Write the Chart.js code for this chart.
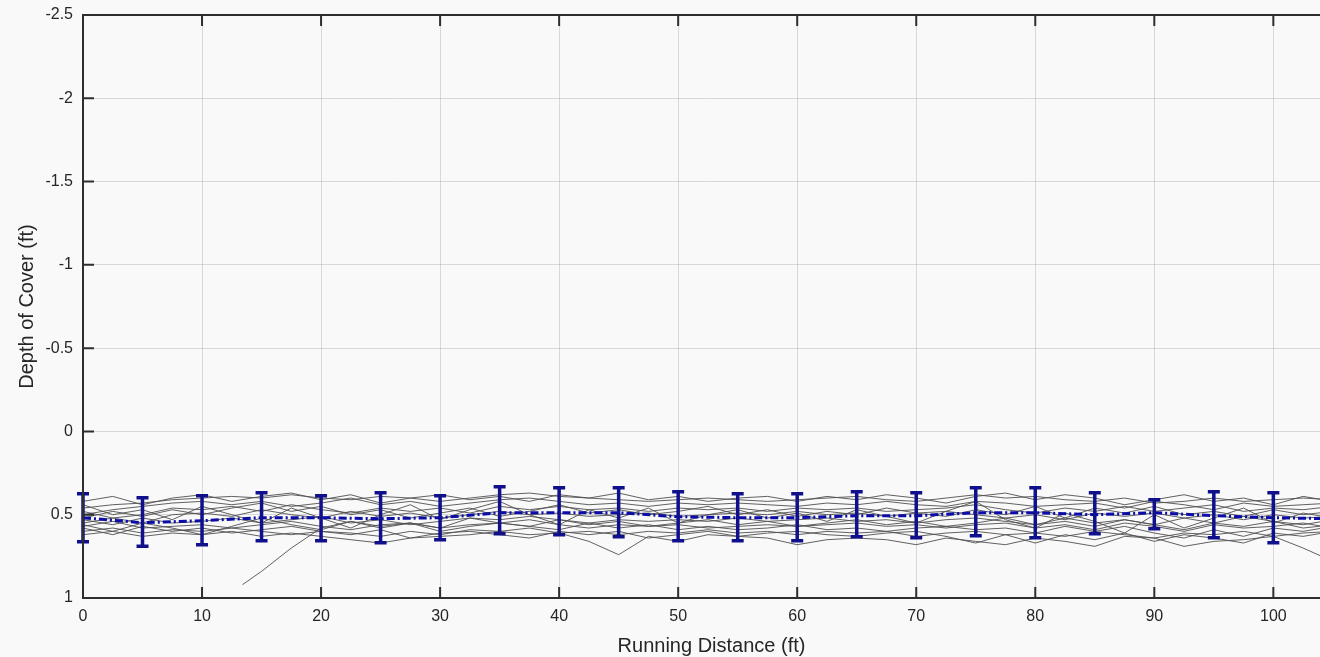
<!DOCTYPE html>
<html>
<head>
<meta charset="utf-8">
<script src="https://cdn.jsdelivr.net/npm/chart.js@4/dist/chart.umd.min.js"></script>
<style>
  html, body { margin: 0; padding: 0; background: #f9f9f9; overflow: hidden; }
  #wrap { width: 1340px; height: 657px; position: relative; }
</style>
</head>
<body>
<div id="wrap"><canvas id="c"></canvas></div>
<script>
// ---- data ----
const xs = [0,2.5,5,7.5,10,12.5,15,17.5,20,22.5,25,27.5,30,32.5,35,37.5,40,42.5,45,47.5,50,52.5,55,57.5,60,62.5,65,67.5,70,72.5,75,77.5,80,82.5,85,87.5,90,92.5,95,97.5,100,102.5,105];

const trace1  = [0.46,0.44,0.43,0.41,0.40,0.39,0.40,0.38,0.40,0.41,0.39,0.40,0.42,0.40,0.38,0.37,0.39,0.40,0.41,0.42,0.41,0.40,0.41,0.42,0.41,0.40,0.39,0.41,0.42,0.40,0.38,0.40,0.39,0.41,0.42,0.40,0.43,0.42,0.40,0.42,0.41,0.40,0.41];
const trace2  = [0.50,0.47,0.45,0.43,0.42,0.44,0.42,0.45,0.43,0.40,0.44,0.42,0.45,0.43,0.41,0.40,0.42,0.44,0.43,0.45,0.43,0.44,0.43,0.44,0.45,0.43,0.44,0.42,0.44,0.45,0.42,0.43,0.45,0.44,0.43,0.46,0.42,0.44,0.47,0.43,0.45,0.44,0.43];
const trace3  = [0.55,0.52,0.50,0.46,0.47,0.45,0.48,0.44,0.47,0.49,0.46,0.48,0.46,0.49,0.45,0.47,0.45,0.47,0.46,0.48,0.46,0.47,0.46,0.48,0.46,0.47,0.46,0.48,0.47,0.46,0.44,0.47,0.49,0.46,0.48,0.45,0.48,0.46,0.44,0.48,0.46,0.47,0.45];
const trace4  = [0.48,0.52,0.55,0.50,0.49,0.51,0.47,0.50,0.52,0.48,0.51,0.49,0.52,0.50,0.48,0.50,0.49,0.51,0.50,0.49,0.51,0.50,0.49,0.50,0.48,0.50,0.49,0.51,0.49,0.48,0.50,0.52,0.50,0.53,0.49,0.51,0.49,0.52,0.50,0.53,0.50,0.52,0.51];
const trace5  = [0.53,0.56,0.52,0.55,0.54,0.52,0.55,0.53,0.51,0.55,0.53,0.56,0.54,0.52,0.53,0.51,0.53,0.55,0.53,0.54,0.53,0.54,0.52,0.54,0.53,0.52,0.54,0.53,0.55,0.53,0.52,0.54,0.56,0.52,0.55,0.53,0.56,0.52,0.55,0.51,0.54,0.56,0.53];
const trace6  = [0.57,0.54,0.58,0.57,0.56,0.58,0.56,0.54,0.57,0.59,0.56,0.55,0.58,0.56,0.55,0.53,0.56,0.58,0.56,0.57,0.56,0.58,0.57,0.56,0.57,0.56,0.55,0.57,0.56,0.58,0.56,0.55,0.58,0.56,0.59,0.55,0.57,0.60,0.56,0.58,0.57,0.55,0.58];
const trace7  = [0.60,0.58,0.61,0.59,0.60,0.58,0.60,0.62,0.60,0.61,0.63,0.60,0.62,0.59,0.60,0.58,0.61,0.60,0.62,0.60,0.61,0.59,0.61,0.60,0.62,0.60,0.61,0.60,0.63,0.61,0.60,0.62,0.61,0.63,0.60,0.62,0.64,0.61,0.62,0.60,0.63,0.61,0.60];
const trace8  = [0.62,0.60,0.63,0.61,0.62,0.60,0.63,0.61,0.63,0.65,0.67,0.64,0.63,0.62,0.60,0.62,0.61,0.66,0.74,0.63,0.66,0.62,0.63,0.64,0.68,0.65,0.64,0.65,0.68,0.64,0.66,0.68,0.64,0.66,0.69,0.63,0.64,0.69,0.66,0.65,0.63,0.70,0.78];
const trace9  = [0.44,0.50,0.47,0.53,0.45,0.50,0.55,0.46,0.52,0.58,0.50,0.44,0.53,0.47,0.42,0.50,0.56,0.47,0.52,0.46,0.55,0.50,0.47,0.52,0.49,0.54,0.47,0.51,0.55,0.48,0.42,0.53,0.58,0.49,0.54,0.61,0.50,0.58,0.52,0.46,0.55,0.49,0.52];
const trace10 = [0.58,0.62,0.57,0.60,0.58,0.61,0.59,0.57,0.60,0.62,0.59,0.64,0.61,0.60,0.62,0.64,0.60,0.62,0.60,0.64,0.62,0.60,0.63,0.61,0.60,0.62,0.63,0.61,0.60,0.63,0.67,0.62,0.67,0.62,0.65,0.61,0.66,0.62,0.64,0.67,0.61,0.63,0.60];
const trace11 = [0.42,0.39,0.44,0.40,0.38,0.42,0.39,0.37,0.41,0.38,0.43,0.40,0.38,0.41,0.39,0.42,0.38,0.40,0.37,0.41,0.39,0.42,0.40,0.39,0.42,0.39,0.41,0.38,0.40,0.43,0.39,0.37,0.41,0.38,0.40,0.44,0.41,0.38,0.42,0.40,0.44,0.39,0.42];
const trace12 = [0.52,0.48,0.51,0.47,0.50,0.46,0.43,0.48,0.45,0.50,0.47,0.52,0.49,0.46,0.51,0.48,0.44,0.49,0.47,0.50,0.48,0.45,0.50,0.47,0.51,0.48,0.50,0.46,0.49,0.51,0.47,0.50,0.45,0.52,0.46,0.49,0.45,0.50,0.48,0.51,0.47,0.50,0.48];
const trace13 = [0.56,0.60,0.55,0.58,0.62,0.57,0.52,0.56,0.59,0.54,0.58,0.55,0.60,0.57,0.55,0.57,0.59,0.55,0.58,0.56,0.59,0.57,0.59,0.58,0.56,0.59,0.58,0.60,0.58,0.57,0.59,0.58,0.61,0.57,0.60,0.57,0.61,0.64,0.59,0.63,0.58,0.60,0.57];
// trace starting late (rising line near 13-20 ft)
const xsLate  = [13.4,15,17.5,20,22.5,25,27.5,30,32.5,35,37.5,40,42.5,45,47.5,50,52.5,55,57.5,60,62.5,65,67.5,70,72.5,75,77.5,80,82.5,85,87.5,90,92.5,95,97.5,100,102.5,105];
const traceLate = [0.92,0.84,0.70,0.58,0.54,0.57,0.55,0.58,0.52,0.55,0.57,0.53,0.56,0.54,0.57,0.55,0.53,0.56,0.54,0.57,0.55,0.53,0.56,0.54,0.57,0.55,0.52,0.56,0.54,0.57,0.53,0.56,0.59,0.55,0.57,0.54,0.58,0.56];

// mean with error bars
const errX    = [0,5,10,15,20,25,30,35,40,45,50,55,60,65,70,75,80,85,90,95,100];
const meanY   = [0.518,0.548,0.536,0.518,0.518,0.524,0.518,0.488,0.488,0.488,0.512,0.518,0.518,0.506,0.506,0.488,0.488,0.500,0.488,0.506,0.518];
const errLow  = [0.374,0.398,0.386,0.368,0.386,0.368,0.386,0.332,0.338,0.338,0.362,0.374,0.374,0.362,0.368,0.338,0.338,0.368,0.410,0.362,0.368];
const errHigh = [0.662,0.690,0.680,0.656,0.656,0.668,0.650,0.614,0.620,0.632,0.656,0.656,0.656,0.632,0.638,0.626,0.638,0.614,0.584,0.638,0.668];
const meanTailX = [105];
const meanTailY = [0.524];

const yTickValues = [-2.5,-2,-1.5,-1,-0.5,0,0.5,1];

// ---- build ----
const grayTraces = [trace1,trace2,trace3,trace4,trace5,trace6,trace7,trace8,trace9,trace10,trace11,trace12,trace13];
const pts = (xv, yv) => yv.map((v, i) => ({x: xv[i], y: v}));
const GRAY = 'rgba(80,80,80,0.9)';

const datasets = [];
datasets.push({
  label: 'mean',
  data: pts(errX.concat(meanTailX), meanY.concat(meanTailY)),
  borderColor: '#0c0ca8',
  borderWidth: 3,
  borderDash: [8, 3, 2, 3],
  pointRadius: 0,
  fill: false,
  tension: 0
});
grayTraces.forEach(t => datasets.push({
  data: pts(xs, t), borderColor: GRAY, borderWidth: 1, pointRadius: 0, fill: false, tension: 0
}));
datasets.push({
  data: pts(xsLate, traceLate), borderColor: GRAY, borderWidth: 1, pointRadius: 0, fill: false, tension: 0
});

const frame = {
  id: 'frame',
  afterDatasetsDraw(chart) {
    const {ctx, scales: {x, y}} = chart;
    ctx.save();
    ctx.strokeStyle = '#10108c';
    ctx.lineWidth = 3.5;
    ctx.lineCap = 'butt';
    errX.forEach((xv, i) => {
      const px = x.getPixelForValue(xv);
      const p1 = y.getPixelForValue(errLow[i]);
      const p2 = y.getPixelForValue(errHigh[i]);
      ctx.beginPath();
      ctx.moveTo(px, p1); ctx.lineTo(px, p2);
      ctx.moveTo(px - 6, p1); ctx.lineTo(px + 6, p1);
      ctx.moveTo(px - 6, p2); ctx.lineTo(px + 6, p2);
      ctx.stroke();
    });
    ctx.restore();
  },
  afterDraw(chart) {
    const {ctx, chartArea: a, scales: {x, y}} = chart;
    ctx.save();
    ctx.strokeStyle = '#2e2e2e';
    ctx.lineWidth = 2;
    ctx.strokeRect(a.left, a.top, a.right - a.left, a.bottom - a.top);
    ctx.beginPath();
    x.ticks.forEach(t => {
      const px = x.getPixelForValue(t.value);
      ctx.moveTo(px, a.bottom); ctx.lineTo(px, a.bottom - 11);
      ctx.moveTo(px, a.top); ctx.lineTo(px, a.top + 11);
    });
    y.ticks.forEach(t => {
      const py = y.getPixelForValue(t.value);
      ctx.moveTo(a.left, py); ctx.lineTo(a.left + 11, py);
    });
    ctx.stroke();
    ctx.restore();
  }
};

new Chart(document.getElementById('c'), {
  type: 'line',
  data: { datasets },
  options: {
    responsive: true,
    maintainAspectRatio: false,
    animation: false,
    events: [],
    layout: { padding: { top: 15, left: 0, right: 0, bottom: 0 } },
    plugins: { legend: { display: false }, tooltip: { enabled: false } },
    scales: {
      x: {
        type: 'linear',
        min: 0, max: 105.6,
        afterFit(s) { s.height = 59; s.paddingLeft = 0; s.paddingRight = 0; },
        border: { display: false },
        grid: { color: 'rgba(0,0,0,0.13)', lineWidth: 1, drawTicks: false },
        ticks: {
          stepSize: 10, includeBounds: false, padding: 9, maxRotation: 0,
          color: '#262626', font: { family: 'Liberation Sans, Arial, sans-serif', size: 16 }
        },
        title: {
          display: true, text: 'Running Distance (ft)', color: '#262626',
          font: { family: 'Liberation Sans, Arial, sans-serif', size: 20, lineHeight: 1.1 },
          padding: { top: 0, bottom: 0 }
        }
      },
      y: {
        type: 'linear',
        reverse: true,
        min: -2.5, max: 1,
        afterFit(s) { s.width = 83; s.paddingTop = 0; s.paddingBottom = 0; },
        afterBuildTicks(s) { s.ticks = yTickValues.map(v => ({ value: v })); },
        border: { display: false },
        grid: { color: 'rgba(0,0,0,0.13)', lineWidth: 1, drawTicks: false },
        ticks: {
          padding: 10,
          color: '#262626', font: { family: 'Liberation Sans, Arial, sans-serif', size: 16 },
          callback: v => String(v)
        },
        title: {
          display: true, text: 'Depth of Cover (ft)', color: '#262626',
          font: { family: 'Liberation Sans, Arial, sans-serif', size: 20, lineHeight: 1.1 },
          padding: { top: 16, bottom: 0 }
        }
      }
    }
  },
  plugins: [frame]
});
</script>
</body>
</html>
